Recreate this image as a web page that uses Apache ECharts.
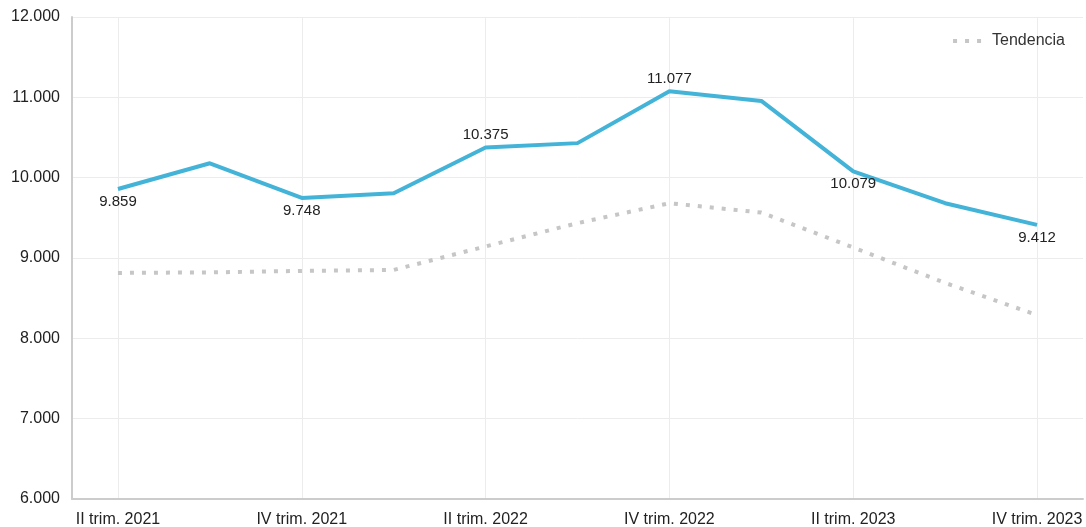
<!DOCTYPE html>
<html>
<head>
<meta charset="utf-8">
<script src="https://cdn.jsdelivr.net/npm/echarts@6/dist/echarts.min.js"></script>
<style>html,body{margin:0;padding:0;background:#fff;}#c{width:1086px;height:527px;}</style>
</head>
<body>
<div id="c"></div>
<script>
const categories = ['II trim. 2021','III trim. 2021','IV trim. 2021','I trim. 2022','II trim. 2022','III trim. 2022','IV trim. 2022','I trim. 2023','II trim. 2023','III trim. 2023','IV trim. 2023'];
const valores = [9859, 10179, 9748, 9806, 10375, 10430, 11077, 10955, 10079, 9682, 9412];
const tendencia = [8814, 8821, 8839, 8851, 9144, 9434, 9682, 9566, 9131, 8690, 8290];
const labelPositions = ['bottom', null, 'bottom', null, 'top', null, 'top', null, 'bottom', null, 'bottom'];
const labelOffsets = [[4,0], null, [0,0], null, [0,0], null, [0,0], null, [-18,0], null, [0,0]];
const yTicks = { min: 6000, max: 12000, interval: 1000 };

const fmt = v => String(v).replace(/\B(?=(\d{3})+(?!\d))/g, '.');
const font = '"Liberation Sans", Arial, sans-serif';

const mainData = valores.map((v, i) => {
  if (!labelPositions[i]) return { value: v, label: { show: false } };
  return { value: v, label: { show: true, position: labelPositions[i], offset: labelOffsets[i] } };
});

const chart = echarts.init(document.getElementById('c'));
chart.setOption({
  animation: false,
  textStyle: { fontFamily: font },
  grid: { left: 72, right: 3, top: 17, bottom: 28, containLabel: false, outerBoundsMode: 'none' },
  legend: {
    show: true,
    data: [{ name: 'Tendencia', icon: 'path://M0,0h4v4h-4z M12,0h4v4h-4z M24,0h4v4h-4z', itemStyle: { color: '#c6c6c6' } }],
    right: 16, top: 28,
    itemWidth: 28, itemHeight: 4, itemGap: 10,
    textStyle: { fontSize: 16, color: '#333', fontFamily: font, padding: [0, 0, 0, 6] }
  },
  xAxis: {
    type: 'category',
    data: categories,
    boundaryGap: true,
    axisLine: { show: true, lineStyle: { color: '#cccccc', width: 2 } },
    axisTick: { show: false, alignWithLabel: true, interval: 1 },
    axisLabel: { interval: 1, color: '#222', fontSize: 16, margin: 13, fontFamily: font },
    splitLine: { show: true, interval: 1, alignWithLabel: true, lineStyle: { color: '#ececec', width: 1 } }
  },
  yAxis: {
    type: 'value',
    min: yTicks.min, max: yTicks.max, interval: yTicks.interval,
    axisLine: { show: true, lineStyle: { color: '#cccccc', width: 2 } },
    axisTick: { show: false },
    axisLabel: { color: '#222', fontSize: 16, margin: 12, formatter: fmt, fontFamily: font },
    splitLine: { show: true, lineStyle: { color: '#ececec', width: 1 } }
  },
  series: [
    {
      name: 'Valor',
      type: 'line',
      data: mainData,
      showSymbol: true,
      symbol: 'circle',
      symbolSize: 0,
      lineStyle: { color: '#43b3d8', width: 4 },
      itemStyle: { color: '#43b3d8' },
      label: { color: '#222', fontSize: 15, formatter: p => fmt(p.value), distance: 5, fontFamily: font },
      labelLayout: { hideOverlap: false },
      z: 3
    },
    {
      name: 'Tendencia',
      type: 'line',
      data: tendencia,
      showSymbol: false,
      symbol: 'none',
      lineStyle: { color: '#c6c6c6', width: 4, type: [4, 8] },
      itemStyle: { color: '#c6c6c6' },
      z: 2
    }
  ]
});
</script>
</body>
</html>
